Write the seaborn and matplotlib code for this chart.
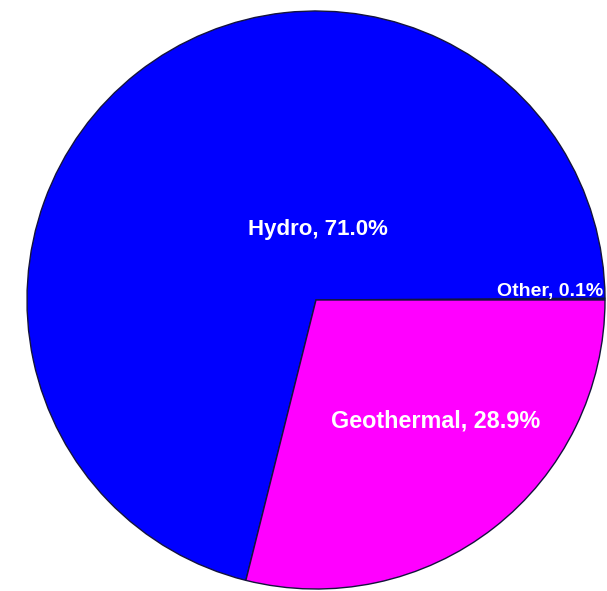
import matplotlib
matplotlib.use("Agg")
import matplotlib.pyplot as plt
import seaborn as sns

# Electricity generation share by source
sources = ["Other", "Hydro", "Geothermal"]
shares = [0.1, 71.0, 28.9]
colors = ["#0000FF", "#0000FF", "#FF00FF"]

sns.set_theme(style="white")
plt.rcParams["font.family"] = ["Liberation Sans", "DejaVu Sans"]

W, H, DPI = 607, 591, 100
fig = plt.figure(figsize=(W / DPI, H / DPI), dpi=DPI)
fig.patch.set_facecolor("white")

cx, cy, r = 316, 300, 289
ax = fig.add_axes([(cx - r) / W, (H - cy - r) / H, 2 * r / W, 2 * r / H])

wedges, _ = ax.pie(
    shares,
    colors=colors,
    startangle=0,
    counterclock=True,
    radius=1.0,
    wedgeprops=dict(edgecolor="#14143c", linewidth=1.0),
)
ax.set_xlim(-1.0, 1.0)
ax.set_ylim(-1.0, 1.0)
ax.set_aspect("equal")
ax.axis("off")

labels = [f"{s}, {v:.1f}%" for s, v in zip(sources, shares)]
label_pos = {
    "Other": (0.995, 0.03, "right", 14),
    "Hydro": (0.007, 0.245, "center", 16),
    "Geothermal": (0.415, -0.42, "center", 16.8),
}
for src, txt in zip(sources, labels):
    x, y, ha, fs = label_pos[src]
    ax.text(x, y, txt, ha=ha, va="center", color="white",
            fontsize=fs, fontweight="bold")

fig.savefig("out.png", dpi=DPI, facecolor="white")
